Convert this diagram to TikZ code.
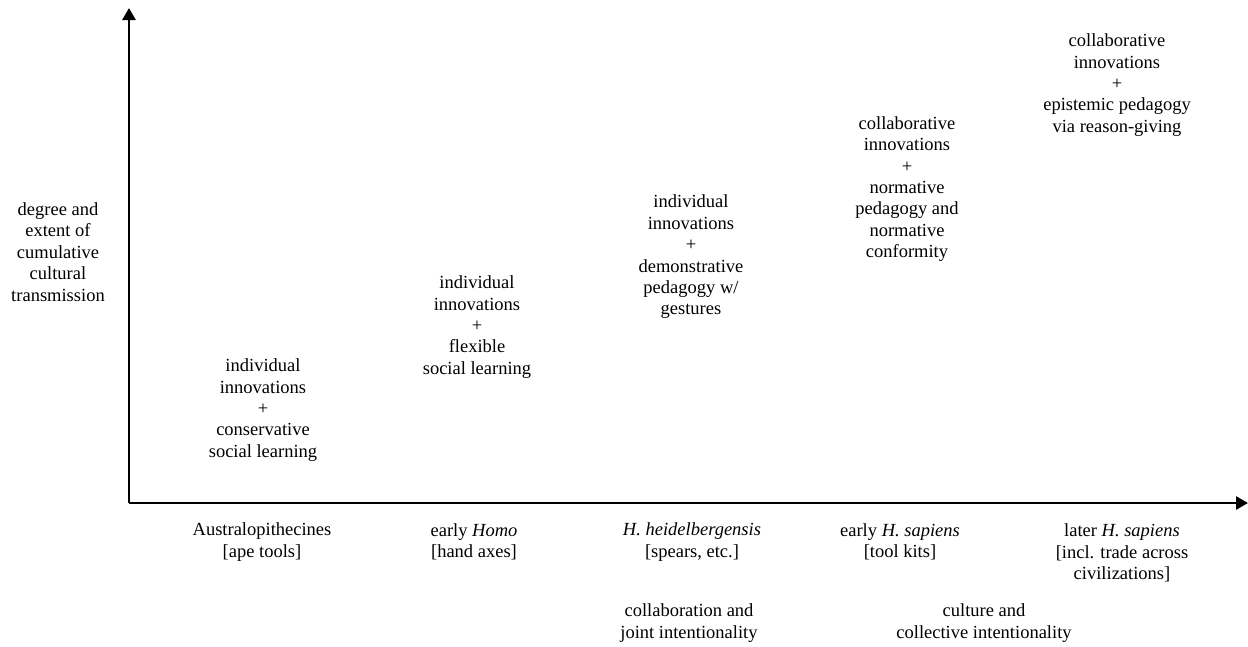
\documentclass[tikz,border=0pt]{standalone}
\usepackage{fontspec}
\setmainfont{Liberation Serif}
\usetikzlibrary{arrows.meta,positioning}
\tikzset{
    axis/.style={draw, line width=2.8pt, -{Triangle[length=12pt, width=13pt]}},
    stage/.style={align=center, inner sep=0pt, font=\fontsize{18.5}{21.4}\selectfont},
    species/.style={stage}
}

\begin{document}
\begin{tikzpicture}[x=1pt, y=-1pt]
    \useasboundingbox (0,0) rectangle (1248,646);

    % axes
    \coordinate (O) at (129,503);
    \coordinate (ytip) at (129,8);
    \coordinate (xtip) at (1248,503);
    \draw[axis] (O) -- (ytip);
    \draw[axis] (O) -- (xtip);

    % y label
    \node[stage] (ylab) at (58,252) {degree and\\extent of\\cumulative\\cultural\\transmission};

    % Nodes
    \node[stage] (s1) at (263,410) {individual\\innovations\\+\\conservative\\social learning};
    \node[stage] (s2) at (477,327) {individual\\innovations\\+\\flexible\\social learning};
    \node[stage] (s3) at (691,257) {individual\\innovations\\+\\demonstrative\\pedagogy w/\\gestures};
    \node[stage] (s4) at (907,189) {collaborative\\innovations\\+\\normative\\pedagogy and\\normative\\conformity};
    \node[stage] (s5) at (1117,85) {collaborative\\innovations\\+\\epistemic pedagogy\\via reason-giving};

    % x labels
    \node[species] (b1) at (262,542) {Australopithecines\\{[}ape tools{]}};
    \node[species] (b2) at (474,542) {early \textit{Homo}\\{[}hand axes{]}};
    \node[species] (b3) at (692,542) {\textit{H. heidelbergensis}\\{[}spears, etc.{]}};
    \node[species] (b4) at (900,542) {early \textit{H. sapiens}\\{[}tool kits{]}};
    \node[species] (b5) at (1122,553) {later \textit{H. sapiens}\\{[}incl. trade across\\civilizations{]}};

    \node[species] (c1) at (689,623) {collaboration and\\joint intentionality};
    \node[species] (c2) at (984,623) {culture and\\collective intentionality};
\end{tikzpicture}
\end{document}
